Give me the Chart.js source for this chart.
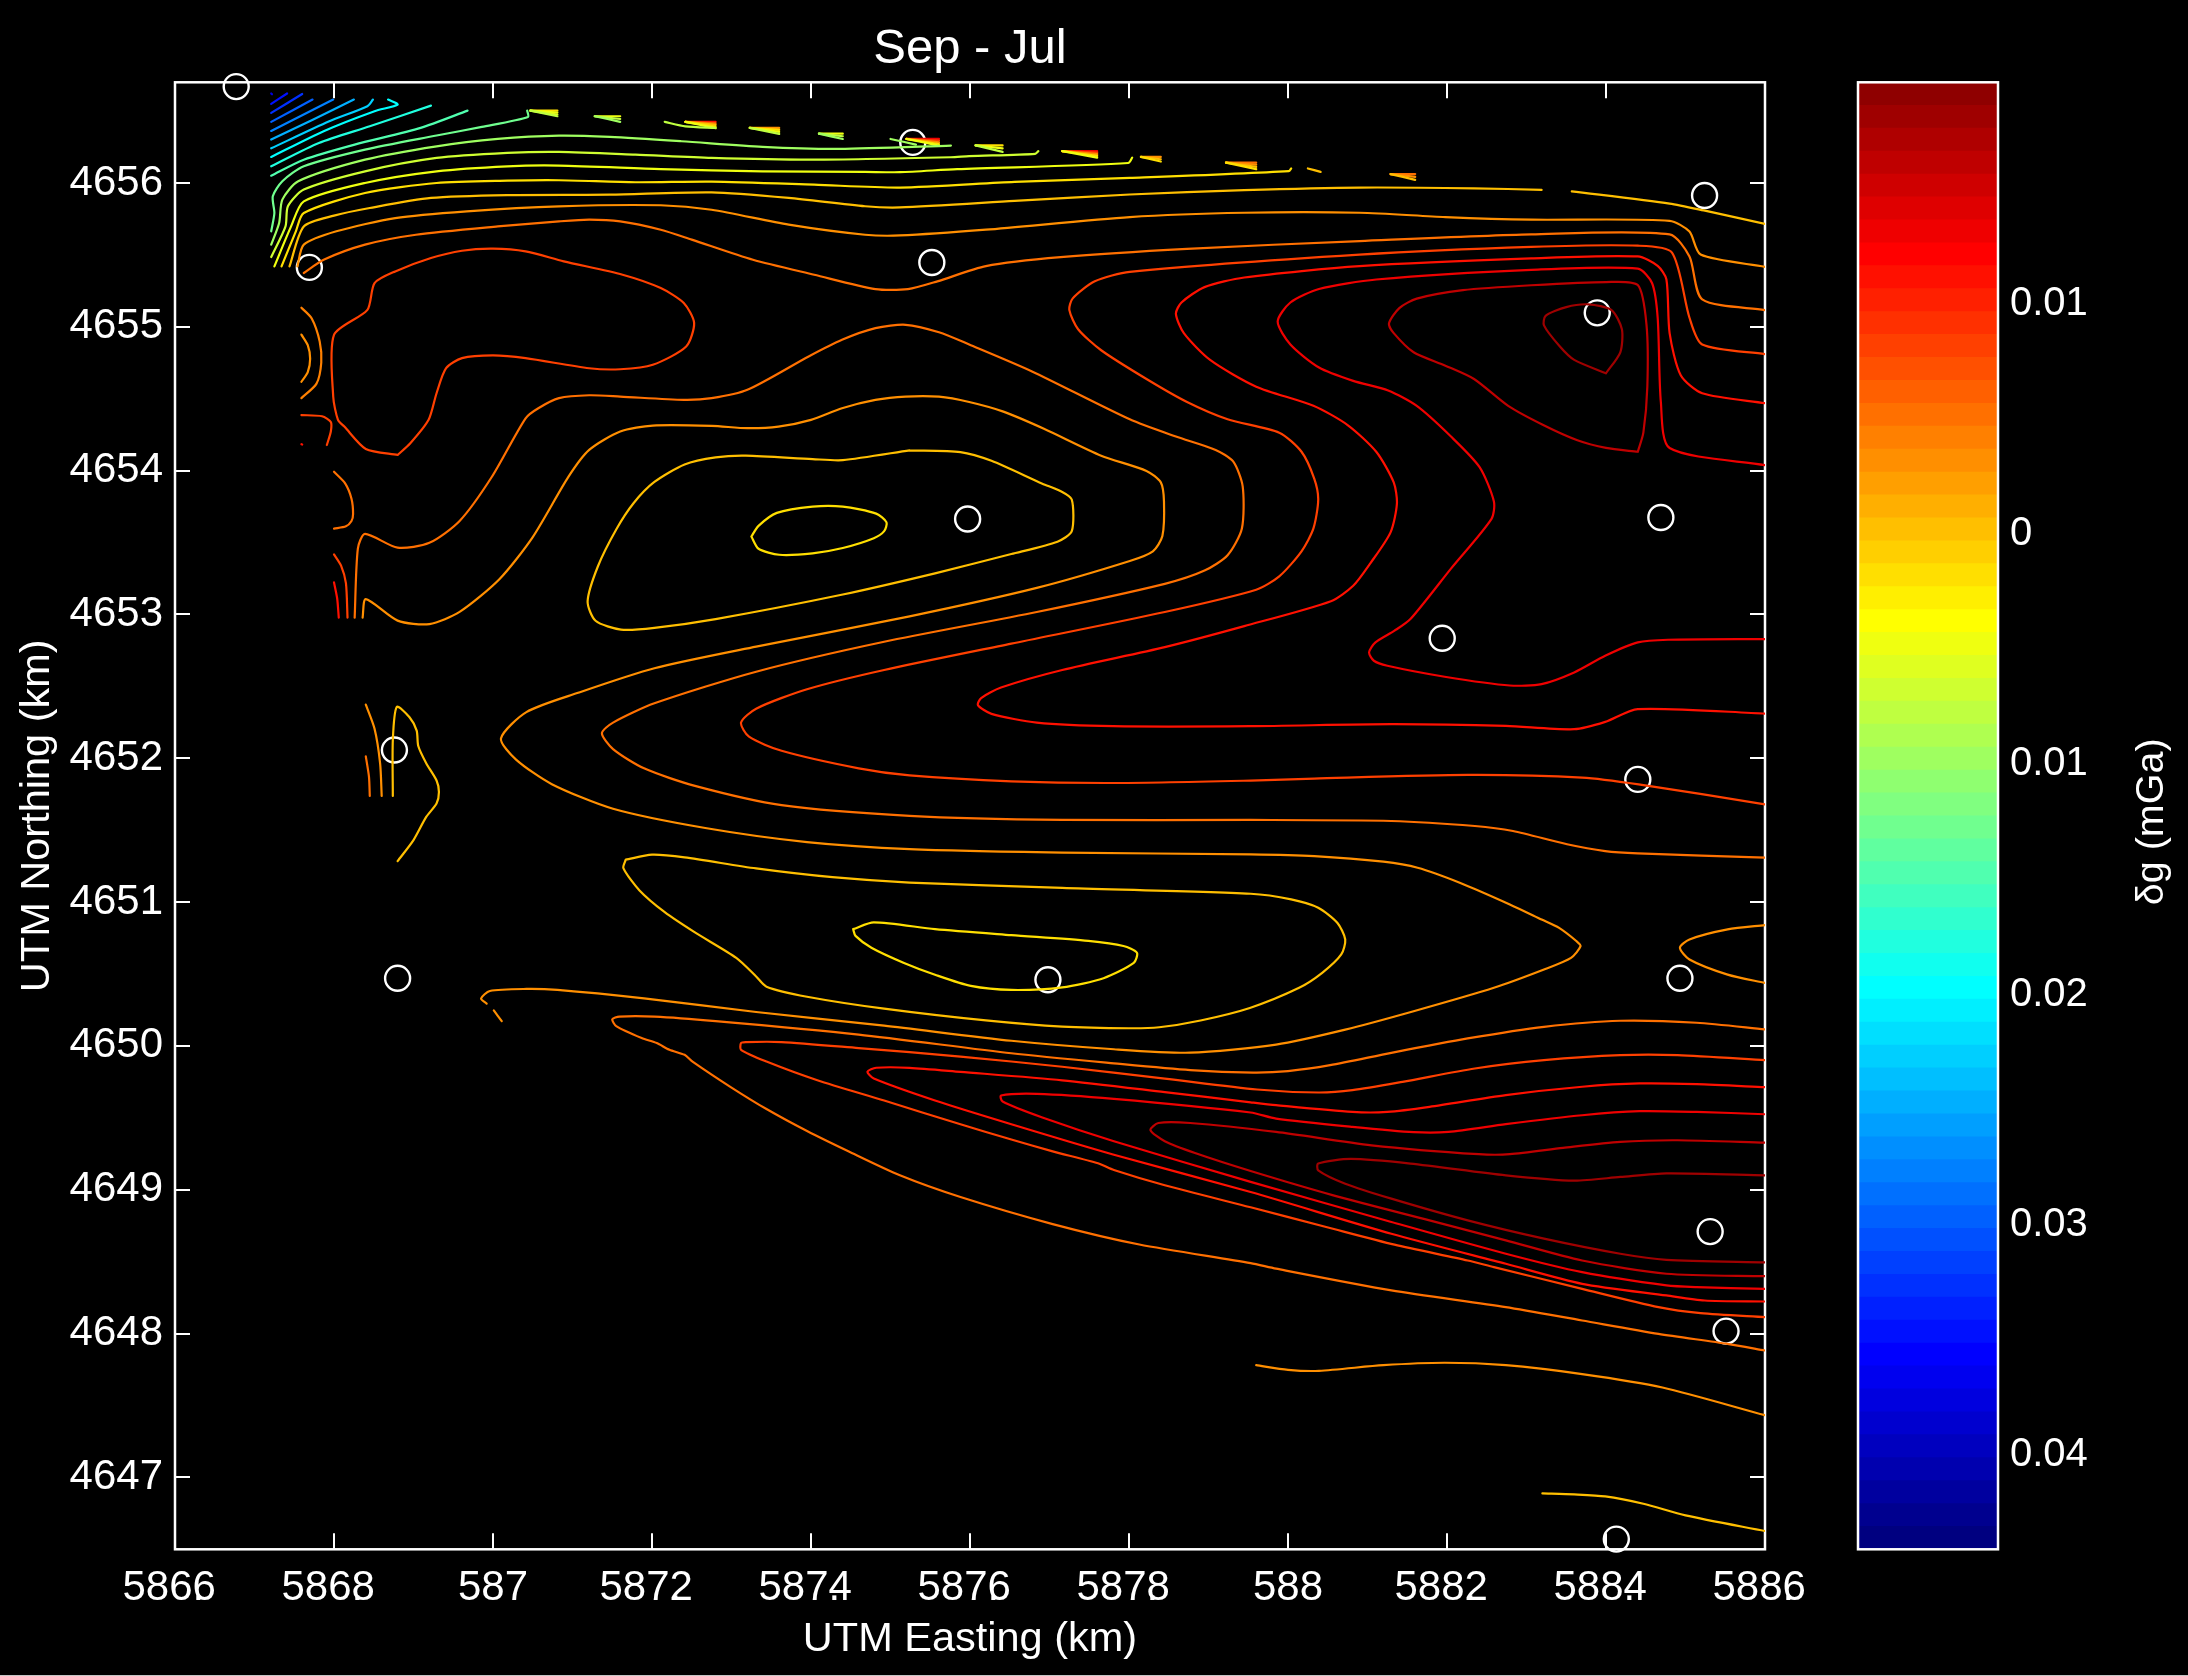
<!DOCTYPE html>
<html lang="en">
<head>
<meta charset="UTF-8">
<title>Sep - Jul</title>
<script src="https://cdn.jsdelivr.net/npm/chart.js"></script>
<style>
    html, body { margin: 0; padding: 0; background: #000; }
    body { width: 2188px; height: 1676px; position: relative; overflow: hidden; }
    canvas { position: absolute; left: 0; top: 0; }
    #edge { position: absolute; left: 0; right: 0; bottom: 0; height: 1px; background: #c4c4c4; }
</style>
</head>
<body>
<canvas id="mapChart" width="2188" height="1676"></canvas>
<canvas id="barChart" width="2188" height="1676"></canvas>
<div id="edge"></div>
<script>
// axis values and labels
const xTicks = [586.6, 586.8, 587, 587.2, 587.4, 587.6, 587.8, 588, 588.2, 588.4, 588.6];
const xTickLabels = ['586.6', '586.8', '587', '587.2', '587.4', '587.6', '587.8', '588', '588.2', '588.4', '588.6'];
const yTicks = [4647, 4648, 4649, 4650, 4651, 4652, 4653, 4654, 4655, 4656];
const yTickLabels = ['4647', '4648', '4649', '4650', '4651', '4652', '4653', '4654', '4655', '4656'];
const barTicks = [-0.04, -0.03, -0.02, -0.01, 0, 0.01];
const barTickLabels = ['0.04', '0.03', '0.02', '0.01', '0', '0.01'];
const barMin = -0.04422, barMax = 0.01948;

// colour bar, bottom to top
const barColors = ['#000080', '#00008f', '#00009f', '#0000af', '#0000bf', '#0000cf', '#0000df', '#0000ef',
    '#0000ff', '#0010ff', '#0020ff', '#0030ff', '#0040ff', '#0050ff', '#0060ff', '#0070ff',
    '#0080ff', '#008fff', '#009fff', '#00afff', '#00bfff', '#00cfff', '#00dfff', '#00efff',
    '#00ffff', '#10ffef', '#20ffdf', '#30ffcf', '#40ffbf', '#50ffaf', '#60ff9f', '#70ff8f',
    '#80ff80', '#8fff70', '#9fff60', '#afff50', '#bfff40', '#cfff30', '#dfff20', '#efff10',
    '#ffff00', '#ffef00', '#ffdf00', '#ffcf00', '#ffbf00', '#ffaf00', '#ff9f00', '#ff8f00',
    '#ff8000', '#ff7000', '#ff6000', '#ff5000', '#ff4000', '#ff3000', '#ff2000', '#ff1000',
    '#ff0000', '#ef0000', '#df0000', '#cf0000', '#bf0000', '#af0000', '#9f0000', '#8f0000'];

// stations
const stations = [[586.677,4656.67],[587.528,4656.282],[588.524,4655.913],[586.769,4655.413],[587.552,4655.447],
    [588.389,4655.097],[587.597,4653.664],[588.469,4653.674],[588.194,4652.834],[586.876,4652.057],[588.44,4651.853],
    [586.88,4650.47],[587.698,4650.46],[588.493,4650.47],[588.531,4648.709],[588.551,4648.017],[588.413,4646.571]];

// contours in the top left corner
const blue0 = [[586.721,4656.622],[586.722,4656.617]];
const blue1 = [[586.721,4656.55],[586.741,4656.622]];
const blue2 = [[586.721,4656.487],[586.76,4656.619]];
const blue3 = [[586.721,4656.425],[586.773,4656.58]];
const blue4 = [[586.721,4656.362],[586.799,4656.58]];
const blue5 = [[586.721,4656.302],[586.774,4656.441],[586.825,4656.58]];
const blue6 = [[586.721,4656.241],[586.794,4656.429],[586.842,4656.534],[586.849,4656.58]];
const cyan1 = [[586.721,4656.181],[586.787,4656.36],[586.851,4656.499],[586.88,4656.545],[586.868,4656.58]];
const cyan2 = [[586.721,4656.116],[586.781,4656.278],[586.845,4656.394],[586.922,4656.538]];
const green1 = [[586.721,4656.051],[586.762,4656.162],[586.826,4656.267],[586.909,4656.383],[586.968,4656.503]];
const green2 = [[586.721,4655.664],[586.725,4655.791],[586.723,4655.907],[586.735,4656.012],[586.762,4656.116],[586.839,4656.232],
    [586.929,4656.33],[586.986,4656.39],[587.044,4656.459],[587.043,4656.503]];
const green3 = [[586.721,4655.571],[586.731,4655.722],[586.735,4655.884],[586.755,4656.012],[586.839,4656.162],[586.929,4656.255],
    [587.006,4656.306],[587.083,4656.329],[587.147,4656.32],[587.237,4656.29],[587.339,4656.251],[587.436,4656.237],[587.576,4656.26]];
const lime1 = [[586.721,4655.485],[586.739,4655.698],[586.742,4655.838],[586.762,4655.954],[586.839,4656.081],[586.929,4656.174],
    [587.018,4656.209],[587.083,4656.216],[587.179,4656.197],[587.275,4656.174],[587.404,4656.162],[587.576,4656.179],[587.599,4656.187],
    [587.682,4656.203],[587.686,4656.221]];
const yellow1 = [[586.725,4655.42],[586.746,4655.698],[586.762,4655.872],[586.839,4656.0],[586.929,4656.081],[587.018,4656.116],
    [587.083,4656.121],[587.211,4656.097],[587.339,4656.081],[587.468,4656.077],[587.512,4656.075],[587.584,4656.096],[587.799,4656.139],[587.804,4656.176]];
const yellow2 = [[586.734,4655.42],[586.752,4655.664],[586.762,4655.791],[586.839,4655.93],[586.929,4656.0],[587.018,4656.016],
    [587.083,4656.019],[587.179,4656.005],[587.275,4656.009],[587.404,4655.988],[587.512,4655.968],[587.656,4656.008],[587.801,4656.035],
    [588.001,4656.083],[588.004,4656.101]];
const gold1 = [[586.744,4655.42],[586.762,4655.698],[586.8,4655.773],[586.845,4655.826],[586.922,4655.896],[587.018,4655.916],
    [587.147,4655.919],[587.275,4655.935],[587.372,4655.896],[587.468,4655.838],[587.512,4655.83],[587.656,4655.875],[587.801,4655.92],
    [587.945,4655.95],[588.09,4655.968],[588.234,4655.963],[588.319,4655.952]];
const gold2 = [[588.357,4655.942],[588.48,4655.857],[588.523,4655.809],[588.6,4655.715]];
const orange1 = [[586.754,4655.42],[586.762,4655.571],[586.803,4655.664],[586.877,4655.756],[586.967,4655.803],[587.083,4655.838],
    [587.211,4655.845],[587.275,4655.814],[587.372,4655.71],[587.468,4655.64],[587.512,4655.635],[587.62,4655.675],[587.801,4655.763],
    [587.945,4655.793],[588.09,4655.793],[588.198,4655.763],[588.306,4655.745],[588.48,4655.737],[588.505,4655.662],[588.519,4655.502],[588.6,4655.417]];
const orange2 = [[586.762,4655.374],[586.787,4655.466],[586.839,4655.571],[586.903,4655.64],[587.006,4655.698],[587.083,4655.733],
    [587.121,4655.745],[587.16,4655.733],[587.211,4655.675],[587.25,4655.606],[587.327,4655.466],[587.404,4655.362],[587.481,4655.262],
    [587.522,4655.262],[587.559,4655.316],[587.62,4655.422],[587.714,4655.484],[587.873,4655.542],[588.09,4655.596],[588.306,4655.643],
    [588.48,4655.643],[588.505,4655.489],[588.521,4655.191],[588.6,4655.116]];
const redLoop = [[586.88,4654.109],[586.84,4654.151],[586.813,4654.306],[586.805,4654.353],[586.799,4654.515],[586.8,4654.944],
    [586.842,4655.118],[586.851,4655.304],[586.877,4655.385],[586.922,4655.478],[586.961,4655.529],[587.0,4655.543],[587.041,4655.524],
    [587.089,4655.455],[587.163,4655.362],[587.211,4655.269],[587.24,4655.165],[587.253,4655.026],[587.243,4654.863],[587.201,4654.736],
    [587.16,4654.705],[587.121,4654.712],[587.041,4654.782],[587.0,4654.801],[586.961,4654.782],[586.941,4654.712],[586.929,4654.538],
    [586.919,4654.353],[586.896,4654.19],[586.88,4654.109]];

// long folded contours through the middle
const foldA = [[586.826,4652.978],[586.83,4653.458],[586.839,4653.56],[586.88,4653.464],[586.92,4653.498],[586.958,4653.65],
    [586.998,4653.952],[587.041,4654.364],[587.057,4654.434],[587.083,4654.504],[587.121,4654.524],[587.16,4654.515],[587.24,4654.492],
    [587.275,4654.504],[587.32,4654.562],[587.397,4654.794],[587.439,4654.91],[587.481,4654.991],[587.519,4655.014],[587.561,4654.962],
    [587.599,4654.877],[587.678,4654.69],[587.801,4654.357],[587.859,4654.237],[587.909,4654.144],[587.931,4654.064],[587.943,4653.891],
    [587.942,4653.598],[587.924,4653.412],[587.895,4653.305],[587.845,4653.213],[587.684,4653.017],[587.492,4652.81],[587.331,4652.602],
    [587.203,4652.382],[587.151,4652.248],[587.137,4652.174],[587.151,4652.064],[587.19,4651.93],[587.254,4651.808],[587.363,4651.674],
    [587.524,4651.6],[587.716,4651.571],[587.953,4651.571],[588.13,4651.564],[588.235,4651.529],[588.283,4651.494],[588.351,4651.402],
    [588.399,4651.355],[588.44,4651.339],[588.6,4651.309]];
const foldB = [[586.836,4652.978],[586.84,4653.106],[586.88,4652.957],[586.92,4652.933],[586.958,4653.018],[587.008,4653.245],
    [587.05,4653.538],[587.095,4653.958],[587.121,4654.144],[587.16,4654.272],[587.201,4654.313],[587.275,4654.311],[587.32,4654.295],
    [587.359,4654.306],[587.4,4654.353],[587.439,4654.434],[587.481,4654.492],[587.519,4654.515],[587.561,4654.514],[587.599,4654.477],
    [587.642,4654.41],[587.693,4654.291],[587.765,4654.104],[587.822,4653.998],[587.84,4653.918],[587.844,4653.785],[587.842,4653.545],
    [587.83,4653.439],[587.801,4653.372],[587.684,4653.185],[587.524,4652.987],[587.331,4652.776],[587.203,4652.626],[587.107,4652.455],
    [587.042,4652.321],[587.01,4652.138],[587.029,4651.991],[587.074,4651.82],[587.151,4651.649],[587.267,4651.515],[587.395,4651.417],
    [587.524,4651.368],[587.716,4651.344],[587.953,4651.332],[588.033,4651.32],[588.12,4651.281],[588.163,4651.239],[588.216,4651.135],
    [588.279,4650.984],[588.319,4650.879],[588.341,4650.821],[588.363,4650.728],[588.368,4650.694],[588.356,4650.612],[588.322,4650.531],
    [588.259,4650.404],[588.158,4650.241],[588.072,4650.113],[587.985,4650.009],[587.877,4649.953],[587.781,4649.977],[587.652,4650.036],
    [587.492,4650.141],[587.331,4650.236],[587.19,4650.33],[587.081,4650.389],[587.042,4650.396],[586.996,4650.382],[586.985,4650.33],[586.992,4650.294]];
const foldBTail = [[587.001,4650.247],[587.011,4650.172]];
const foldC = [[588.6,4654.81],[588.521,4654.877],[588.505,4655.063],[588.483,4655.516],[588.44,4655.564],[588.306,4655.556],
    [588.09,4655.502],[587.801,4655.382],[587.757,4655.316],[587.729,4655.196],[587.725,4655.116],[587.736,4654.983],[587.765,4654.837],
    [587.822,4654.637],[587.873,4654.477],[587.924,4654.357],[587.989,4654.264],[588.017,4654.131],[588.033,4653.944],[588.038,4653.798],
    [588.032,4653.598],[588.017,4653.439],[587.989,4653.265],[587.96,4653.172],[587.845,4653.017],[587.652,4652.797],[587.492,4652.614],
    [587.395,4652.48],[587.331,4652.345],[587.312,4652.248],[587.322,4652.15],[587.363,4652.052],[587.46,4651.93],[587.524,4651.881],
    [587.652,4651.84],[587.78,4651.828],[587.953,4651.845],[588.033,4651.859],[588.226,4651.884],[588.37,4651.866],[588.441,4651.819],[588.6,4651.68]];
const foldD = [[588.6,4654.469],[588.521,4654.538],[588.494,4654.663],[588.48,4654.956],[588.476,4655.329],[588.465,4655.423],
    [588.44,4655.489],[588.306,4655.476],[588.09,4655.422],[587.945,4655.343],[587.895,4655.276],[587.866,4655.169],[587.859,4655.09],
    [587.869,4654.956],[587.902,4654.77],[587.96,4654.584],[588.032,4654.451],[588.075,4654.317],[588.111,4654.131],[588.133,4653.918],
    [588.137,4653.771],[588.129,4653.571],[588.104,4653.359],[588.082,4653.199],[588.054,4653.092],[587.945,4652.919],[587.845,4652.773],
    [587.716,4652.614],[587.639,4652.492],[587.614,4652.419],[587.61,4652.37],[587.627,4652.309],[587.684,4652.248],[587.78,4652.223],
    [587.953,4652.223],[588.13,4652.237],[588.274,4652.225],[588.36,4652.202],[588.399,4652.253],[588.44,4652.342],[588.6,4652.311]];
const foldE = [[588.6,4654.038],[588.48,4654.157],[588.469,4654.477],[588.465,4655.063],[588.458,4655.303],[588.44,4655.404],
    [588.306,4655.396],[588.111,4655.329],[588.039,4655.263],[588.003,4655.169],[587.987,4655.036],[588.003,4654.877],[588.039,4654.717],
    [588.082,4654.624],[588.126,4654.557],[588.162,4654.45],[588.205,4654.237],[588.241,4654.024],[588.259,4653.785],[588.256,4653.665],
    [588.205,4653.319],[588.154,4652.968],[588.134,4652.887],[588.11,4652.806],[588.102,4652.736],[588.108,4652.678],[588.125,4652.643],
    [588.197,4652.567],[588.279,4652.506],[588.319,4652.516],[588.36,4652.597],[588.399,4652.713],[588.44,4652.806],[588.478,4652.824],[588.6,4652.829]];
const peakOuter = [[588.44,4654.131],[588.4,4654.158],[588.364,4654.211],[588.321,4654.317],[588.277,4654.45],[588.234,4654.637],
    [588.198,4654.73],[588.158,4654.823],[588.133,4654.956],[588.127,4655.023],[588.14,4655.13],[588.162,4655.196],[588.22,4655.255],
    [588.306,4655.289],[588.4,4655.311],[588.44,4655.29],[588.451,4655.01],[588.452,4654.584],[588.447,4654.264],[588.44,4654.131]];
const peakInner = [[588.4,4654.677],[588.36,4654.77],[588.342,4654.863],[588.322,4655.01],[588.324,4655.076],[588.35,4655.137],
    [588.378,4655.156],[588.407,4655.116],[588.42,4654.983],[588.418,4654.823],[588.4,4654.677]];
const lobeUpper = [[587.524,4654.141],[587.44,4654.073],[587.402,4654.08],[587.318,4654.104],[587.28,4654.092],[587.241,4654.043],
    [587.203,4653.921],[587.177,4653.775],[587.155,4653.591],[587.132,4653.335],[587.119,4653.091],[587.129,4652.956],[587.161,4652.895],
    [587.203,4652.907],[587.28,4652.968],[587.44,4653.139],[587.556,4653.286],[587.652,4653.42],[587.71,4653.506],[587.728,4653.579],
    [587.728,4653.799],[587.713,4653.86],[587.691,4653.909],[587.627,4654.068],[587.588,4654.129],[587.524,4654.141]];
const lobeUpperInner = [[587.325,4653.542],[587.334,4653.616],[587.357,4653.706],[587.402,4653.75],[587.44,4653.75],[587.482,4653.701],
    [587.495,4653.64],[587.492,4653.579],[587.479,4653.53],[587.44,4653.462],[587.402,4653.425],[587.36,4653.415],[587.334,4653.457],[587.325,4653.542]];
const lobeLower = [[587.167,4651.295],[587.2,4651.33],[587.241,4651.311],[587.331,4651.234],[587.427,4651.173],[587.524,4651.136],
    [587.716,4651.099],[587.953,4651.058],[588.004,4651.019],[588.038,4650.961],[588.062,4650.856],[588.072,4650.74],[588.067,4650.636],
    [588.043,4650.508],[588.014,4650.404],[587.952,4650.264],[587.89,4650.177],[587.838,4650.13],[587.8,4650.123],[587.716,4650.134],
    [587.62,4650.177],[587.492,4650.259],[587.395,4650.342],[587.344,4650.412],[587.331,4650.483],[587.306,4650.612],[587.254,4650.789],
    [587.216,4650.93],[587.184,4651.083],[587.164,4651.236],[587.167,4651.295]];
const lobeLowerInner = [[587.453,4650.812],[587.479,4650.859],[587.556,4650.812],[587.652,4650.77],[587.749,4650.73],[587.793,4650.695],
    [587.81,4650.648],[587.806,4650.577],[587.768,4650.471],[587.716,4650.407],[587.652,4650.389],[587.601,4650.417],[587.556,4650.495],
    [587.517,4650.577],[587.476,4650.683],[587.456,4650.765],[587.453,4650.812]];

// wedge shaped contours running to the south east
const southA = [[588.6,4650.115],[588.514,4650.161],[588.418,4650.175],[588.322,4650.133],[588.226,4650.052],[588.13,4649.952],
    [588.053,4649.866],[588.0,4649.825],[587.956,4649.815],[587.877,4649.832],[587.781,4649.879],[587.652,4649.949],[587.46,4650.079],
    [587.28,4650.173],[587.203,4650.204],[587.159,4650.204],[587.15,4650.185],[587.155,4650.138],[587.187,4650.055],[587.206,4650.02],
    [587.222,4649.973],[587.241,4649.938],[587.251,4649.891],[587.299,4649.714],[587.344,4649.561],[587.395,4649.408],[587.447,4649.267],
    [587.511,4649.102],[587.588,4648.949],[587.704,4648.761],[587.813,4648.619],[587.953,4648.49],[587.985,4648.451],[588.13,4648.3],
    [588.274,4648.184],[588.37,4648.091],[588.466,4647.998],[588.553,4647.928],[588.6,4647.882]];
const southB = [[588.6,4649.901],[588.49,4649.936],[588.418,4649.936],[588.322,4649.901],[588.235,4649.843],[588.144,4649.75],
    [588.081,4649.692],[588.038,4649.676],[587.961,4649.697],[587.845,4649.773],[587.716,4649.855],[587.588,4649.926],[587.46,4649.985],
    [587.363,4650.027],[587.318,4650.027],[587.312,4650.02],[587.312,4649.973],[587.344,4649.891],[587.408,4649.761],[587.492,4649.62],
    [587.588,4649.455],[587.652,4649.349],[587.704,4649.267],[587.761,4649.184],[587.781,4649.137],[587.845,4649.031],[587.953,4648.878],
    [588.048,4648.741],[588.134,4648.618],[588.226,4648.508],[588.259,4648.462],[588.37,4648.311],[588.466,4648.184],[588.519,4648.142],[588.6,4648.114]];
const southC = [[588.6,4649.713],[588.514,4649.734],[588.442,4649.739],[588.37,4649.716],[588.274,4649.658],[588.178,4649.576],
    [588.125,4649.541],[588.081,4649.541],[587.985,4649.588],[587.953,4649.608],[587.845,4649.679],[587.716,4649.761],[587.588,4649.82],
    [587.524,4649.848],[587.482,4649.848],[587.471,4649.82],[587.479,4649.773],[587.556,4649.62],[587.652,4649.455],[587.781,4649.243],
    [587.953,4648.984],[588.13,4648.694],[588.274,4648.485],[588.37,4648.346],[588.476,4648.265],[588.524,4648.23],[588.6,4648.223]];
const southD = [[588.6,4649.525],[588.514,4649.541],[588.442,4649.546],[588.37,4649.518],[588.274,4649.456],[588.202,4649.402],
    [588.158,4649.4],[588.081,4649.437],[587.985,4649.495],[587.953,4649.537],[587.781,4649.632],[587.684,4649.667],[587.639,4649.655],
    [587.641,4649.613],[587.691,4649.502],[587.781,4649.337],[587.953,4649.055],[588.13,4648.776],[588.274,4648.555],[588.37,4648.427],
    [588.476,4648.335],[588.514,4648.323],[588.6,4648.311]];
const southE = [[588.6,4649.328],[588.49,4649.344],[588.418,4649.333],[588.346,4649.291],[588.279,4649.247],[588.24,4649.247],
    [588.105,4649.309],[587.985,4649.402],[587.877,4649.464],[587.837,4649.464],[587.827,4649.415],[587.845,4649.337],[587.883,4649.255],
    [587.953,4649.13],[588.057,4648.961],[588.178,4648.787],[588.274,4648.648],[588.37,4648.508],[588.476,4648.416],[588.6,4648.399]];
const southF = [[588.6,4649.1],[588.476,4649.114],[588.418,4649.089],[588.36,4649.063],[588.274,4649.1],[588.154,4649.182],
    [588.079,4649.214],[588.038,4649.182],[588.038,4649.135],[588.072,4649.042],[588.13,4648.938],[588.226,4648.787],[588.322,4648.66],
    [588.418,4648.555],[588.476,4648.513],[588.6,4648.495]];
const bottomA = [[587.96,4647.78],[588.0,4647.748],[588.039,4647.741],[588.12,4647.78],[588.197,4647.797],[588.274,4647.78],
    [588.37,4647.718],[588.471,4647.625],[588.6,4647.432]];
const bottomB = [[588.32,4646.889],[588.36,4646.882],[588.399,4646.868],[588.447,4646.817],[588.5,4646.736],[588.6,4646.627]];
const rightLobe = [[588.6,4650.84],[588.553,4650.81],[588.505,4650.74],[588.493,4650.682],[588.505,4650.601],[588.553,4650.496],[588.6,4650.438]];

// short pieces down the left side
const bitA = [[586.759,4655.133],[586.772,4655.058],[586.782,4654.898],[586.784,4654.752],[586.778,4654.605],[586.759,4654.504]];
const bitB = [[586.759,4654.946],[586.767,4654.872],[586.77,4654.778],[586.767,4654.685],[586.759,4654.618]];
const bitC = [[586.759,4654.386],[586.785,4654.378],[586.796,4654.338],[586.796,4654.272],[586.791,4654.178]];
const bitD = [[586.759,4654.184],[586.76,4654.181]];
const bitE = [[586.8,4653.992],[586.814,4653.912],[586.822,4653.805],[586.824,4653.698],[586.822,4653.65],[586.815,4653.613],[586.8,4653.597]];
const bitF = [[586.8,4653.418],[586.809,4653.338],[586.815,4653.218],[586.817,4652.978]];
const bitG = [[586.8,4653.223],[586.804,4653.111],[586.806,4652.978]];
const bitH = [[586.84,4652.373],[586.851,4652.205],[586.858,4651.965],[586.86,4651.738]];
const bitI = [[586.84,4652.013],[586.844,4651.871],[586.845,4651.738]];
const bitJ = [[586.874,4651.738],[586.874,4652.125],[586.879,4652.357],[586.895,4652.285],[586.904,4652.192],[586.906,4652.085],
    [586.916,4651.965],[586.929,4651.845],[586.932,4651.765],[586.929,4651.685],[586.916,4651.592],[586.9,4651.431],[586.88,4651.285]];
const bitK = [[587.216,4656.425],[587.242,4656.394],[587.28,4656.383]];
const bitL = [[587.5,4656.306],[587.532,4656.267]];
const bitM = [[588.025,4656.101],[588.041,4656.077]];

// contour and its level
const contours = [
    [blue0,-0.0375],[blue1,-0.035],[blue2,-0.0325],[blue3,-0.03],[blue4,-0.0275],[blue5,-0.025],[blue6,-0.0225],
    [cyan1,-0.02],[cyan2,-0.0175],[green1,-0.015],[green2,-0.0125],[green3,-0.0095],[lime1,-0.007],[yellow1,-0.0045],
    [yellow2,-0.002],[gold1,0.0005],[gold2,0.0005],[orange1,0.003],[orange2,0.0055],[redLoop,0.0085],
    [foldA,0.0055],[foldB,0.003],[foldBTail,0.003],[foldC,0.0085],[foldD,0.0115],[foldE,0.0135],[peakOuter,0.0155],[peakInner,0.0175],
    [lobeUpper,0.0005],[lobeUpperInner,-0.002],[lobeLower,0.0005],[lobeLowerInner,-0.002],
    [southA,0.0055],[southB,0.0085],[southC,0.0115],[southD,0.0135],[southE,0.0155],[southF,0.0175],
    [bottomA,0.003],[bottomB,0.0005],[rightLobe,0.003],
    [bitA,0.004],[bitB,0.003],[bitC,0.0085],[bitD,0.0115],[bitE,0.0055],[bitF,0.0085],[bitG,0.0115],[bitH,0.003],[bitI,0.0055],[bitJ,0.0005],
    [bitK,-0.0075],[bitL,-0.0095],[bitM,0.0005]
];

// the little fans along the top: tip x, tip y, end x, then end y and level of each stroke
const fans = [
    [587.047,4656.503,587.081,[[4656.464,-0.0075],[4656.476,-0.006],[4656.489,-0.0045],[4656.503,-0.002]]],
    [587.128,4656.464,587.16,[[4656.425,-0.0095],[4656.445,-0.0075],[4656.464,-0.0045]]],
    [587.242,4656.425,587.28,[[4656.381,-0.0045],[4656.392,-0.002],[4656.404,0.0005],[4656.415,0.0055],[4656.425,0.0115]]],
    [587.323,4656.383,587.36,[[4656.341,-0.0075],[4656.355,-0.0045],[4656.369,-0.002],[4656.383,0.003]]],
    [587.41,4656.343,587.44,[[4656.306,-0.0095],[4656.325,-0.0075],[4656.343,-0.0045]]],
    [587.52,4656.306,587.561,[[4656.26,-0.0045],[4656.271,-0.002],[4656.283,0.003],[4656.295,0.0085],[4656.306,0.0135]]],
    [587.607,4656.261,587.641,[[4656.216,-0.0075],[4656.24,-0.0045],[4656.261,-0.002]]],
    [587.716,4656.221,587.76,[[4656.176,-0.0045],[4656.189,-0.002],[4656.2,0.003],[4656.211,0.0085],[4656.221,0.0135]]],
    [587.815,4656.181,587.84,[[4656.149,-0.002],[4656.165,0.0005],[4656.181,0.003]]],
    [587.922,4656.141,587.96,[[4656.096,-0.002],[4656.112,0.0005],[4656.128,0.003],[4656.141,0.0055]]],
    [588.129,4656.062,588.16,[[4656.022,0.0005],[4656.043,0.003],[4656.062,0.0055]]]
];

const whiteText = '#fff';
const fontName = '"Liberation Sans", Arial, sans-serif';

function levelColor(level) {
    const i = Math.floor((level - barMin) / (barMax - barMin) * barColors.length);
    return barColors[Math.min(barColors.length - 1, Math.max(0, i))];
}

function lineSet(points, level) {
    return {
        type: 'scatter',
        data: points.map(p => ({ x: p[0], y: p[1] })),
        showLine: true,
        pointRadius: 0,
        borderColor: levelColor(level),
        borderWidth: 2.2,
        tension: 0.25,
        borderCapStyle: 'round',
        borderJoinStyle: 'round'
    };
}

const datasets = [];
contours.forEach(c => datasets.push(lineSet(c[0], c[1])));
fans.forEach(f => f[3].forEach(e => datasets.push(lineSet([[f[0], f[1]], [f[2], e[0]]], e[1]))));
datasets.push({
    type: 'scatter',
    data: stations.map(p => ({ x: p[0], y: p[1] })),
    pointRadius: 12.5,
    pointBorderWidth: 2.4,
    pointBorderColor: '#fff',
    pointBackgroundColor: 'rgba(0,0,0,0)',
    clip: false
});

function setSize(w, h) {
    return scale => {
        if (w !== null) scale.width = w;
        if (h !== null) scale.height = h;
    };
}

function fixedTicks(values) {
    return scale => { scale.ticks = values.map(v => ({ value: v })); };
}

function tickAxis(min, max, values, position, length, sizer) {
    return {
        type: 'linear', position, min, max,
        afterBuildTicks: fixedTicks(values),
        afterFit: sizer,
        border: { display: false },
        grid: { drawOnChartArea: false, color: '#fff', lineWidth: 2, tickLength: -length },
        ticks: { display: false, autoSkip: false }
    };
}

const framePlugin = {
    id: 'frame',
    beforeDatasetsDraw(chart) {
        if (chart.canvas.id === 'mapChart') drawFrame(chart);
    },
    afterDatasetsDraw(chart) {
        if (chart.canvas.id === 'barChart') drawFrame(chart);
    }
};

function drawFrame(chart) {
    const a = chart.chartArea, ctx = chart.ctx;
    ctx.save();
    ctx.strokeStyle = '#fff';
    ctx.lineWidth = 2.5;
    ctx.strokeRect(a.left, a.top, a.right - a.left, a.bottom - a.top);
    ctx.restore();
}

// the decimal point of the x labels takes no room in the original, so the next digit sits on top of it
const xLabelPlugin = {
    id: 'xLabels',
    afterDraw(chart) {
        const scale = chart.scales.x, ctx = chart.ctx;
        ctx.save();
        ctx.font = '42px ' + fontName;
        ctx.fillStyle = whiteText;
        ctx.textAlign = 'left';
        ctx.textBaseline = 'alphabetic';
        xTicks.forEach((v, i) => {
            const label = xTickLabels[i];
            const dot = label.indexOf('.');
            let x = scale.getPixelForValue(v) - ctx.measureText(label).width / 2;
            const y = scale.top + 51;
            if (dot < 0) {
                ctx.fillText(label, x, y);
                return;
            }
            const head = label.slice(0, dot);
            ctx.fillText(head, x, y);
            x += ctx.measureText(head).width;
            ctx.fillText('.', x, y);
            ctx.fillText(label.slice(dot + 1), x, y);
        });
        ctx.restore();
    }
};

// bar labels sit a touch under their ticks, and the title reads upwards on the right hand side
const barTextPlugin = {
    id: 'barText',
    afterDraw(chart) {
        const a = chart.chartArea, ctx = chart.ctx, scale = chart.scales.y;
        ctx.save();
        ctx.fillStyle = whiteText;
        ctx.textBaseline = 'middle';
        ctx.font = '40px ' + fontName;
        ctx.textAlign = 'left';
        barTicks.forEach((v, i) => ctx.fillText(barTickLabels[i], a.right + 12, scale.getPixelForValue(v) + 3));
        ctx.translate(2152, (a.top + a.bottom) / 2 + 6);
        ctx.rotate(-Math.PI / 2);
        ctx.font = '39.5px ' + fontName;
        ctx.textAlign = 'center';
        ctx.fillText('δg (mGa)', 0, 0);
        ctx.restore();
    }
};

new Chart(document.getElementById('mapChart'), {
    type: 'scatter',
    data: { datasets },
    plugins: [framePlugin, xLabelPlugin],
    options: {
        responsive: false,
        devicePixelRatio: 1,
        animation: false,
        layout: { padding: { right: 423 } },
        plugins: {
            legend: { display: false },
            tooltip: { enabled: false },
            title: {
                display: true, text: 'Sep - Jul', color: whiteText, fullSize: false,
                font: { family: fontName, size: 49, weight: 'normal', lineHeight: 1.2 },
                padding: { top: 20, bottom: 3.5 }
            }
        },
        scales: {
            x: {
                ...tickAxis(586.6, 588.6, xTicks, 'bottom', 16, setSize(null, 126.7)),
                title: { display: true, text: 'UTM Easting (km)', color: whiteText, font: { family: fontName, size: 41.5, lineHeight: 1.2 }, padding: { top: 0, bottom: 12 } }
            },
            y: {
                ...tickAxis(4646.5, 4656.7, yTicks, 'left', 15, setSize(175, null)),
                ticks: { display: true, autoSkip: false, color: whiteText, padding: 27, font: { family: fontName, size: 42 }, callback: (v, i) => yTickLabels[i] },
                title: { display: true, text: 'UTM Northing (km)', color: whiteText, font: { family: fontName, size: 41.5, lineHeight: 1.2 }, padding: { top: 13, bottom: 0 } }
            },
            x2: tickAxis(586.6, 588.6, xTicks, 'top', 16, setSize(null, 0)),
            y2: tickAxis(4646.5, 4656.7, yTicks, 'right', 15, setSize(0, null))
        }
    }
});

// low band on top, each one reaching down to the bottom so no seams show between them
const barSets = barColors.map((color, i) => ({
    data: [[barMin, barMin + (barMax - barMin) * (i + 1) / barColors.length]],
    backgroundColor: color,
    borderWidth: 0,
    barPercentage: 1,
    categoryPercentage: 1,
    grouped: false
}));

new Chart(document.getElementById('barChart'), {
    type: 'bar',
    data: { labels: [''], datasets: barSets },
    plugins: [framePlugin, barTextPlugin],
    options: {
        responsive: false,
        devicePixelRatio: 1,
        animation: false,
        layout: { padding: { left: 1858, top: 82.3, bottom: 126.7 } },
        plugins: { legend: { display: false }, tooltip: { enabled: false } },
        scales: {
            x: { display: false },
            y: tickAxis(barMin, barMax, barTicks, 'right', 14, setSize(190, null)),
            y2: tickAxis(barMin, barMax, barTicks, 'left', 14, setSize(0, null))
        }
    }
});
</script>
</body>
</html>
